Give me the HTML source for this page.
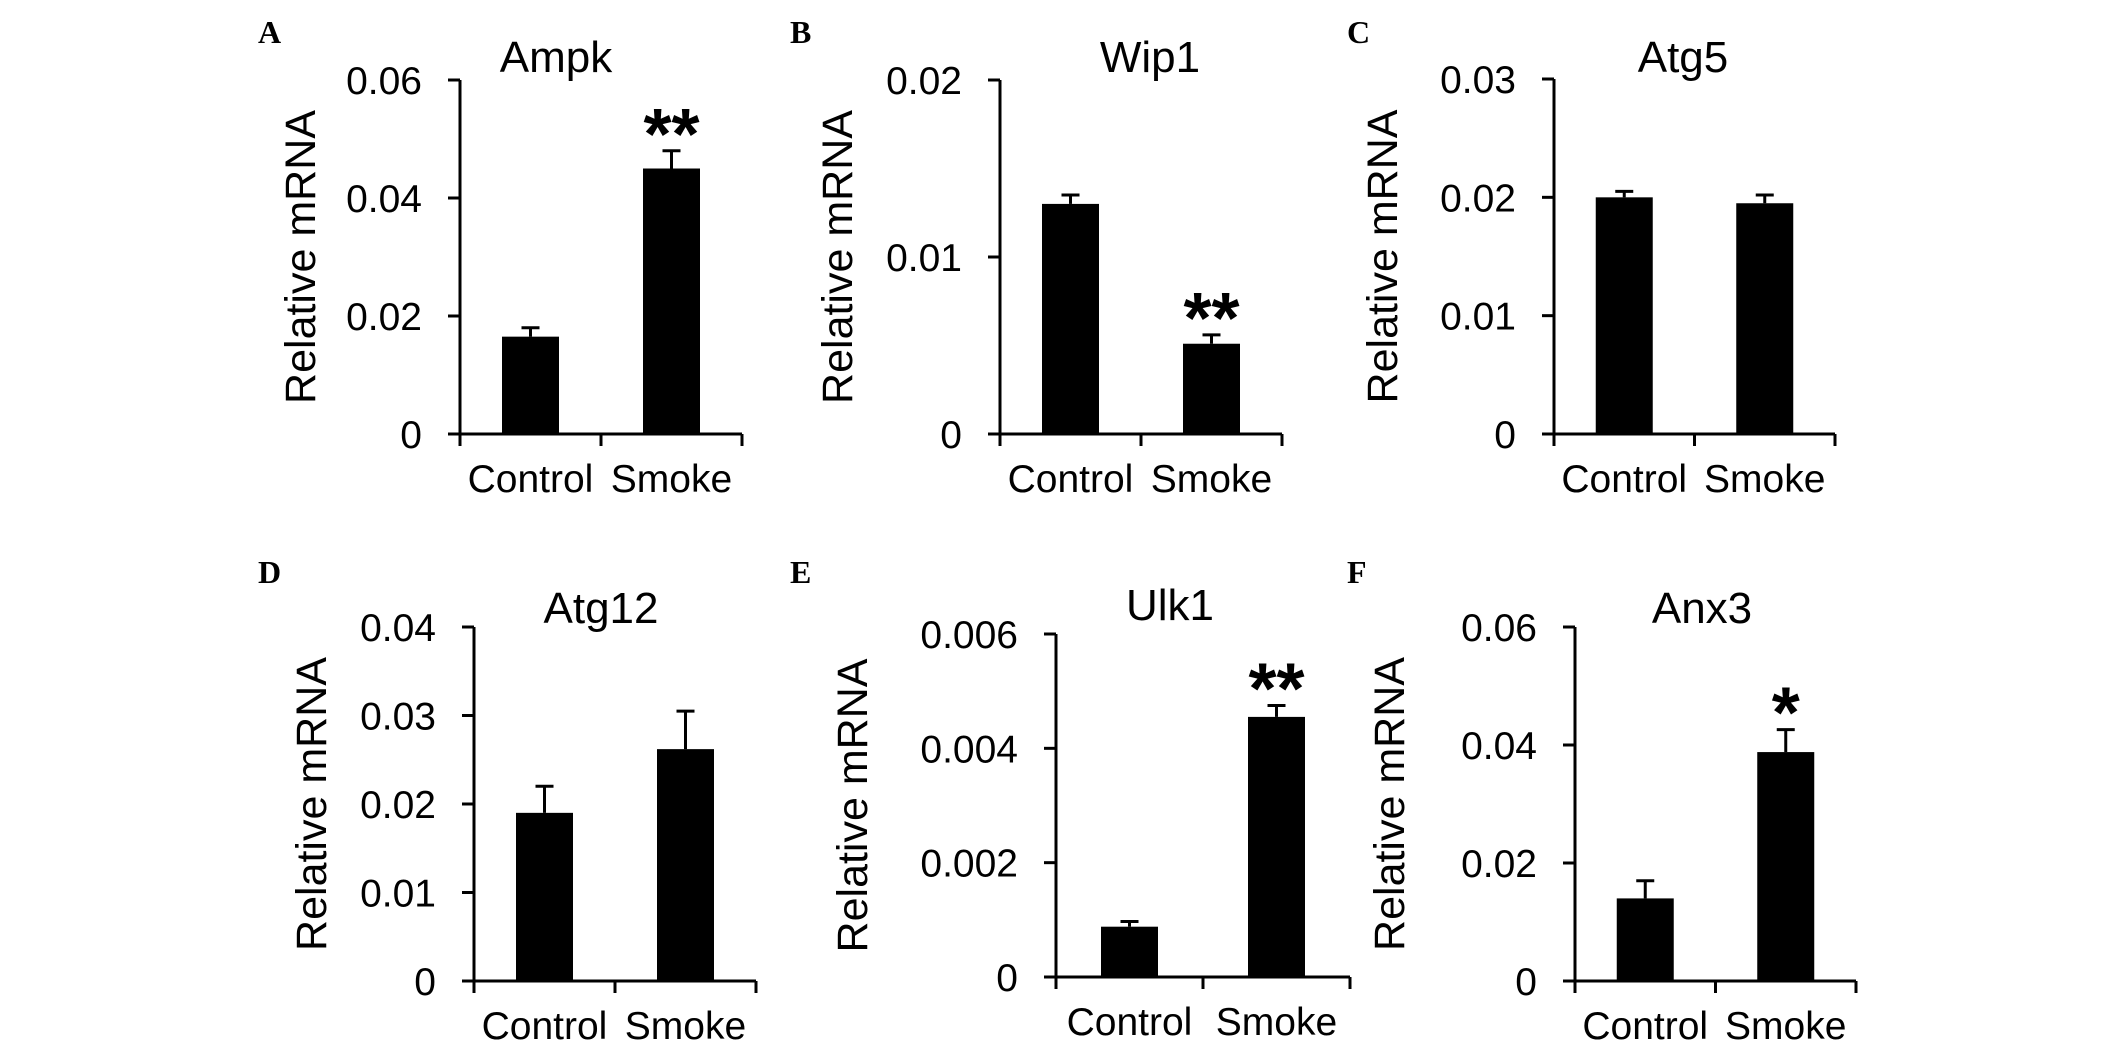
<!DOCTYPE html>
<html><head><meta charset="utf-8">
<style>
html,body{margin:0;padding:0;background:#fff;}
svg{display:block;}
text{font-family:"Liberation Sans",Arial,sans-serif;fill:#000;}
.letter{font-family:"Liberation Serif",serif;font-weight:bold;font-size:32px;}
</style></head>
<body>
<svg id="fig" width="2126" height="1057" viewBox="0 0 2126 1057" xmlns="http://www.w3.org/2000/svg"></svg>
<script>
const titles = ["Ampk","Wip1","Atg5","Atg12","Ulk1","Anx3"];
const letters = ["A","B","C","D","E","F"];
const categories = ["Control","Smoke"];
const controlValues = [0.0165,0.013,0.020,0.019,0.00088,0.014];
const controlErrTops = [0.018,0.0135,0.0205,0.022,0.00097,0.017];
const smokeValues = [0.045,0.0051,0.0195,0.0262,0.00455,0.0388];
const smokeErrTops = [0.048,0.0056,0.0202,0.0305,0.00475,0.0426];
const signif = ["**","**","","","**","*"];
const yMax = [0.06,0.02,0.03,0.04,0.006,0.06];
const tickLabels = [["0","0.02","0.04","0.06"],["0","0.01","0.02"],["0","0.01","0.02","0.03"],["0","0.01","0.02","0.03","0.04"],["0","0.002","0.004","0.006"],["0","0.02","0.04","0.06"]];

const layout = [
 {ax:460,top:80,zero:434,w:282,lx:258,ly:43,tx:556,ty:72,yl:160},
 {ax:1000,top:80,zero:434,w:282,lx:790,ly:43,tx:1150,ty:72,yl:163},
 {ax:1554,top:79,zero:434,w:281,lx:1347,ly:43,tx:1683,ty:72,yl:172},
 {ax:474,top:627,zero:981,w:282,lx:258,ly:583,tx:601,ty:623,yl:163},
 {ax:1056,top:634,zero:977,w:294,lx:790,ly:583,tx:1170,ty:620,yl:204},
 {ax:1575,top:627,zero:981,w:281,lx:1347,ly:583,tx:1702,ty:623,yl:186}
];
const NS="http://www.w3.org/2000/svg";
const svg=document.getElementById('fig');
function mk(tag,attrs,parent){const e=document.createElementNS(NS,tag);for(const k in attrs)e.setAttribute(k,attrs[k]);(parent||svg).appendChild(e);return e;}

layout.forEach((L,i)=>{
  const g=mk('g',{});
  
  
  const y=v=>L.zero-(v/yMax[i])*(L.zero-L.top);
  const xc=k=>L.ax+L.w*(0.25+0.5*k);
  const bw=57;
  const lt=mk('text',{x:L.lx,y:L.ly,'class':'letter'},g);lt.textContent=letters[i];
  
  
  const tt=mk('text',{x:L.tx,y:L.ty,'text-anchor':'middle','font-size':44},g);tt.textContent=titles[i];
  
  
  const cy=(L.top+L.zero)/2;
  const yt=mk('text',{x:0,y:0,'text-anchor':'middle','font-size':43,transform:`translate(${L.ax-L.yl+15},${cy}) rotate(-90)`},g);yt.textContent="Relative mRNA";
  
  
  const ya=mk('line',{x1:L.ax,y1:L.top,x2:L.ax,y2:L.zero+12,stroke:'#000','stroke-width':3},g);
  
  
  tickLabels[i].forEach((lab,j)=>{
    const v=j*yMax[i]/(tickLabels[i].length-1);
    const ty=y(v);
    mk('line',{x1:L.ax-12,y1:ty,x2:L.ax,y2:ty,stroke:'#000','stroke-width':3},g);
    const t=mk('text',{x:L.ax-38,y:ty+14,'text-anchor':'end','font-size':39},g);t.textContent=lab;
    
    
  });
  const xa=mk('line',{x1:L.ax-12,y1:L.zero,x2:L.ax+L.w,y2:L.zero,stroke:'#000','stroke-width':3},g);
  
  
  [0,0.5,1].forEach(f=>mk('line',{x1:L.ax+L.w*f,y1:L.zero,x2:L.ax+L.w*f,y2:L.zero+12,stroke:'#000','stroke-width':3},g));
  const vals=[controlValues[i],smokeValues[i]], errs=[controlErrTops[i],smokeErrTops[i]];
  categories.forEach((c,k)=>{
    const cx=xc(k);
    const b=mk('rect',{x:cx-bw/2,y:y(vals[k]),width:bw,height:L.zero-y(vals[k]),fill:'#000'},g);
    
    
    mk('line',{x1:cx,y1:y(vals[k]),x2:cx,y2:y(errs[k]),stroke:'#000','stroke-width':3},g);
    const cap=mk('line',{x1:cx-9,y1:y(errs[k]),x2:cx+9,y2:y(errs[k]),stroke:'#000','stroke-width':3},g);
    
    
    const xl=mk('text',{x:cx,y:L.zero+58,'text-anchor':'middle','font-size':39},g);xl.textContent=c;
    
    
  });
  if(signif[i]){
    const s=mk('text',{x:xc(1),y:y(smokeErrTops[i])+8,'text-anchor':'middle','font-size':72,'font-weight':'bold'},g);s.textContent=signif[i];
    
    
  }
});
</script>
</body></html>
